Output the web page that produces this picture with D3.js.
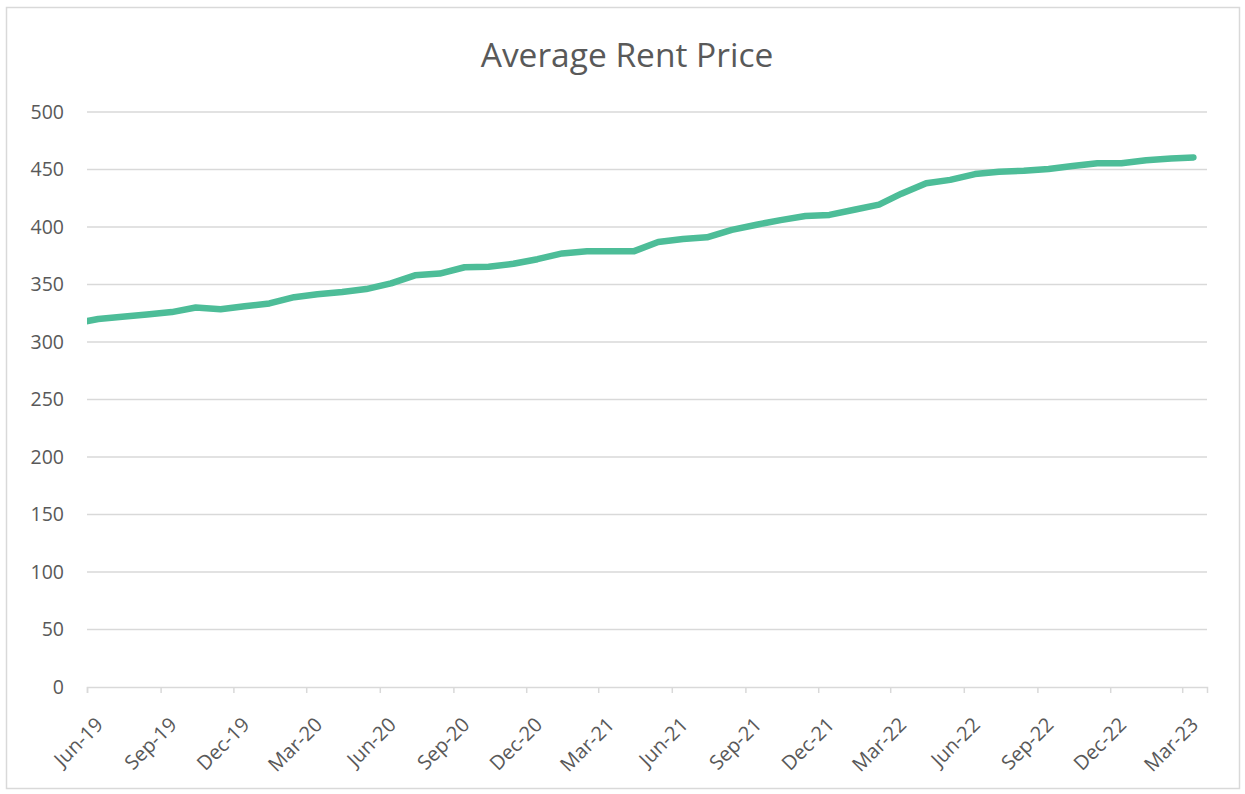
<!DOCTYPE html>
<html>
<head>
<meta charset="utf-8">
<style>
  body { margin: 0; background: #fff; }
  svg { display: block; }
  text { font-family: "Open Sans", "Noto Sans", sans-serif; fill: #595959; }
</style>
</head>
<body>
<svg width="1245" height="794"></svg>
<script src="https://cdnjs.cloudflare.com/ajax/libs/d3/7.8.5/d3.min.js"></script>
<script>
// monthly average rent, first month sits left of the axis start and gets clipped
var months = ["May-19","Jun-19","Jul-19","Aug-19","Sep-19","Oct-19","Nov-19","Dec-19",
  "Jan-20","Feb-20","Mar-20","Apr-20","May-20","Jun-20","Jul-20","Aug-20","Sep-20","Oct-20","Nov-20","Dec-20",
  "Jan-21","Feb-21","Mar-21","Apr-21","May-21","Jun-21","Jul-21","Aug-21","Sep-21","Oct-21","Nov-21","Dec-21",
  "Jan-22","Feb-22","Mar-22","Apr-22","May-22","Jun-22","Jul-22","Aug-22","Sep-22","Oct-22","Nov-22","Dec-22",
  "Jan-23","Feb-23","Mar-23"];
var rent = [316, 320, 322, 324, 326, 330, 328.5, 331,
  333.5, 339, 341.5, 343.5, 346, 351, 358, 359.5, 365, 365.5, 368, 372,
  377, 379, 379, 379, 387, 389.5, 391, 397.5, 402, 406, 409.5, 410.5,
  415, 419.5, 429, 438, 441, 446, 448, 449, 450.5, 453, 455.5, 455.5,
  458, 459.5, 460.5];
var tickLabels = ["Jun-19","Sep-19","Dec-19","Mar-20","Jun-20","Sep-20","Dec-20","Mar-21",
  "Jun-21","Sep-21","Dec-21","Mar-22","Jun-22","Sep-22","Dec-22","Mar-23"];
var yTicks = [0, 50, 100, 150, 200, 250, 300, 350, 400, 450, 500];

var parse = d3.timeParse("%b-%y");
var svg = d3.select("svg");

var plot = {left: 87, right: 1207, top: 112, bottom: 687};

var x = d3.scaleTime()
    .domain([parse("Jun-19"), d3.timeMonth.offset(parse("Mar-23"), 1)])
    .range([plot.left, plot.right]);
var y = d3.scaleLinear().domain([0, 500]).range([plot.bottom, plot.top]);

// chart frame
svg.append("rect")
    .attr("x", 6.5).attr("y", 7.5)
    .attr("width", 1233).attr("height", 781)
    .attr("fill", "none").attr("stroke", "#d9d9d9").attr("stroke-width", 1.5);

svg.append("text")
    .attr("x", 627).attr("y", 67)
    .attr("text-anchor", "middle")
    .attr("font-size", 33.5)
    .text("Average Rent Price");

// gridlines
svg.append("g")
  .selectAll("line")
  .data(yTicks.slice(1))
  .enter().append("line")
    .attr("x1", plot.left).attr("x2", plot.right)
    .attr("y1", function(d) { return y(d); })
    .attr("y2", function(d) { return y(d); })
    .attr("stroke", "#d9d9d9").attr("stroke-width", 1.5);

var yAxis = svg.append("g")
    .attr("transform", "translate(" + plot.left + ",0)")
    .call(d3.axisLeft(y).tickValues(yTicks).tickSize(0).tickPadding(23));
yAxis.select(".domain").remove();
yAxis.selectAll("text").attr("font-size", 19.5).attr("fill", "#595959")
    .attr("font-family", "'Open Sans', sans-serif");

var tickDates = tickLabels.map(parse);
var xAxis = svg.append("g")
    .attr("transform", "translate(0," + plot.bottom + ")")
    .call(d3.axisBottom(x).tickValues(tickDates).tickSize(6)
      .tickFormat(function(d, i) { return tickLabels[i]; }));
xAxis.select(".domain").attr("stroke", "#d9d9d9").attr("stroke-width", 1.5);
xAxis.selectAll(".tick line").attr("stroke", "#d9d9d9").attr("stroke-width", 1.5);
xAxis.selectAll("text")
    .attr("font-size", 20).attr("fill", "#595959")
    .attr("font-family", "'Open Sans', sans-serif")
    .attr("text-anchor", "end")
    .attr("x", 0).attr("y", 0).attr("dy", "0.35em")
    .attr("transform", "translate(12,34) rotate(-45)");

svg.append("clipPath").attr("id", "plotclip")
  .append("rect")
    .attr("x", plot.left).attr("y", 0)
    .attr("width", plot.right - plot.left + 20).attr("height", plot.bottom + 10);

var line = d3.line()
    .x(function(d, i) { return x(d3.timeDay.offset(parse(months[i]), 14)); })
    .y(function(d) { return y(d); });

svg.append("path")
    .datum(rent)
    .attr("clip-path", "url(#plotclip)")
    .attr("d", line)
    .attr("fill", "none")
    .attr("stroke", "#4dbd98")
    .attr("stroke-width", 6.5)
    .attr("stroke-linejoin", "round")
    .attr("stroke-linecap", "round");
</script>
</body>
</html>
